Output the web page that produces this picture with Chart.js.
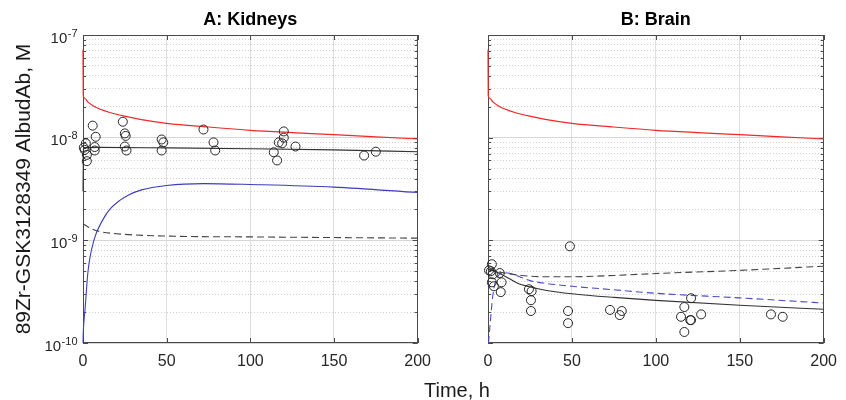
<!DOCTYPE html>
<html><head><meta charset="utf-8">
<script src="https://cdn.jsdelivr.net/npm/chart.js@4/dist/chart.umd.min.js"></script>
<style>
html,body{margin:0;padding:0;background:#fff;}
#wrap{position:relative;width:846px;height:400px;overflow:hidden;background:#fff;}
#cA{position:absolute;left:0;top:0;}
#cB{position:absolute;left:440px;top:0;}
#xt{position:absolute;left:0;top:378px;width:914px;text-align:center;font-family:"Liberation Sans",Arial,sans-serif;font-size:20px;line-height:24px;color:#1a1a1a;}
</style></head><body>
<div id="wrap">
<canvas id="cA" width="440" height="400"></canvas>
<canvas id="cB" width="406" height="400"></canvas>
<div id="xt">Time, h</div>
</div>
<script>
// ---------- data ----------
const panelTitles = ['A: Kidneys', 'B: Brain'];
const yAxisTitle = '89Zr-GSK3128349 AlbudAb, M';
const xTicks = [0, 50, 100, 150, 200];
const yDecades = [1e-10, 1e-9, 1e-8, 1e-7];
const yTickBase = '10';
const yTickExp = ['-10', '-9', '-8', '-7'];

// observed kidney
const kidneyObsTime = [0.5, 1.7, 2.3, 2.3, 1.0, 5.8, 7.6, 7.0, 7.0, 23.8, 25.0, 25.5, 25.0, 26.0, 47.0, 48.0, 47.0, 72.0, 78.0, 79.0, 114.0, 116.0, 117.0, 120.0, 120.0, 119.0, 127.0, 168.0, 175.0];
const kidneyObsConc = [8.0e-9, 8.8e-9, 6.8e-9, 5.9e-9, 7.6e-9, 1.31e-8, 1.02e-8, 8.1e-9, 7.5e-9, 1.43e-8, 1.1e-8, 1.04e-8, 8.2e-9, 7.5e-9, 9.6e-9, 9.0e-9, 7.5e-9, 1.2e-8, 9.0e-9, 7.5e-9, 7.2e-9, 6.0e-9, 9.0e-9, 1.15e-8, 1.0e-8, 8.8e-9, 8.2e-9, 6.7e-9, 7.3e-9];

// observed brain
const brainObsTime = [0.6, 2.3, 1.7, 2.9, 2.3, 3.5, 7.0, 8.1, 7.6, 24.4, 26.0, 25.6, 25.6, 48.8, 47.7, 47.7, 72.7, 78.5, 79.7, 115.0, 117.0, 121.0, 121.0, 120.5, 117.0, 127.0, 168.6, 175.6];
const brainObsConc = [5.1e-10, 5.85e-10, 5.0e-10, 4.67e-10, 3.9e-10, 3.57e-10, 4.8e-10, 3.9e-10, 3.13e-10, 3.34e-10, 3.2e-10, 2.61e-10, 2.05e-10, 8.75e-10, 2.05e-10, 1.56e-10, 2.1e-10, 1.87e-10, 2.05e-10, 1.8e-10, 2.24e-10, 2.73e-10, 1.67e-10, 1.67e-10, 1.28e-10, 1.9e-10, 1.9e-10, 1.8e-10];

// plasma (red) - shown in both panels
const plasmaTime = [0, 0.15, 1, 3, 6, 10, 16, 25, 35, 50, 75, 100, 125, 150, 175, 200];
const plasmaConc = [7.2e-8, 2.55e-8, 2.42e-8, 2.22e-8, 2.05e-8, 1.9e-8, 1.76e-8, 1.62e-8, 1.5e-8, 1.38e-8, 1.27e-8, 1.18e-8, 1.12e-8, 1.07e-8, 1.02e-8, 9.7e-9];

// kidney model curves
const kidneyTotalTime = [0, 0.3, 1, 10, 50, 100, 150, 200];
const kidneyTotalConc = [3.0e-9, 7.6e-9, 8.0e-9, 8.05e-9, 7.95e-9, 7.8e-9, 7.6e-9, 7.3e-9];
const kidneyBlueTime = [0, 0.2, 1.2, 3, 6.5, 12, 16, 22, 27, 35, 50, 72, 100, 150, 200];
const kidneyBlueConc = [1e-10, 1.3e-10, 2.1e-10, 5e-10, 1e-9, 1.6e-9, 2.0e-9, 2.45e-9, 2.75e-9, 3.1e-9, 3.42e-9, 3.57e-9, 3.5e-9, 3.3e-9, 2.92e-9];
const kidneyDashTime = [0, 5, 10, 20, 50, 100, 200];
const kidneyDashConc = [1.45e-9, 1.3e-9, 1.22e-9, 1.16e-9, 1.1e-9, 1.08e-9, 1.05e-9];

// brain model curves
const brainTotalTime = [0, 0.5, 3, 7, 12, 18, 24, 35, 50, 75, 100, 150, 200];
const brainTotalConc = [5.1e-10, 5.2e-10, 5.1e-10, 4.75e-10, 4.3e-10, 3.8e-10, 3.55e-10, 3.25e-10, 3.02e-10, 2.78e-10, 2.6e-10, 2.33e-10, 2.13e-10];
const brainDashTime = [0, 7, 20, 35, 50, 75, 100, 150, 200];
const brainDashConc = [5.2e-10, 4.9e-10, 4.55e-10, 4.42e-10, 4.42e-10, 4.55e-10, 4.75e-10, 5.1e-10, 5.6e-10];
const brainBlueTime = [0.3, 1, 2, 3, 4, 6, 9, 12, 16, 25, 35, 50, 75, 100, 150, 200];
const brainBlueConc = [1e-10, 1.35e-10, 2.1e-10, 3.0e-10, 3.7e-10, 4.5e-10, 4.85e-10, 4.8e-10, 4.6e-10, 4.05e-10, 3.8e-10, 3.57e-10, 3.3e-10, 3.05e-10, 2.75e-10, 2.45e-10];

// ---------- helpers ----------
const FONT = '"Liberation Sans", Arial, Helvetica, sans-serif';
const zip = (t, v) => t.map((x, i) => ({x: x, y: v[i]}));
const isDecade = v => { const l = Math.log10(v); return Math.abs(l - Math.round(l)) < 1e-6; };
const yTickValues = [];
yDecades.forEach((d, i) => {
  yTickValues.push(d);
  if (i < yDecades.length - 1) for (let k = 2; k <= 9; k++) yTickValues.push(k * d);
});

// box + inward tick marks, drawn under the data
const framePlugin = {
  id: 'frame',
  beforeDatasetsDraw(chart) {
    const {ctx, chartArea: a, scales} = chart;
    ctx.save();
    ctx.strokeStyle = '#4a4a4a';
    ctx.lineWidth = 1;
    ctx.beginPath();
    scales.y.ticks.forEach(t => {
      const p = Math.round(scales.y.getPixelForValue(t.value)) + 0.5;
      const L = isDecade(t.value) ? 5 : 3;
      ctx.moveTo(a.left, p); ctx.lineTo(a.left + L, p);
      ctx.moveTo(a.right, p); ctx.lineTo(a.right - L, p);
    });
    scales.x.ticks.forEach(t => {
      const p = Math.round(scales.x.getPixelForValue(t.value)) + 0.5;
      ctx.moveTo(p, a.bottom); ctx.lineTo(p, a.bottom - 5);
      ctx.moveTo(p, a.top); ctx.lineTo(p, a.top + 5);
    });
    ctx.stroke();
    ctx.strokeRect(Math.round(a.left) + 0.5, Math.round(a.top) + 0.5, Math.round(a.width) - 1, Math.round(a.height) - 1);
    ctx.restore();
  }
};

// y tick labels "10" with superscript exponent
const powerLabelPlugin = {
  id: 'powerLabels',
  afterDraw(chart) {
    if (!chart.options.plugins.powerLabels || !chart.options.plugins.powerLabels.show) return;
    const {ctx, chartArea: a, scales} = chart;
    ctx.save();
    ctx.fillStyle = '#262626';
    ctx.textBaseline = 'alphabetic';
    ctx.textAlign = 'left';
    yDecades.forEach((d, i) => {
      const p = scales.y.getPixelForValue(d);
      ctx.font = '11px ' + FONT;
      const ew = ctx.measureText(yTickExp[i]).width;
      ctx.font = '15px ' + FONT;
      const bw = ctx.measureText(yTickBase).width;
      const right = a.left - 6;
      const x0 = right - ew - bw;
      ctx.fillText(yTickBase, x0, p + 7.5);
      ctx.font = '11px ' + FONT;
      ctx.fillText(yTickExp[i], x0 + bw + 0.5, p + 1.5);
    });
    ctx.restore();
  }
};

function lineDs(t, v, color, dash, width) {
  return {type: 'line', data: zip(t, v), borderColor: color, borderWidth: width || 1.1,
    borderDash: dash || [], pointRadius: 0, fill: false, cubicInterpolationMode: 'monotone',
    clip: {left: 2, top: 1, right: 1, bottom: 1}};
}
function obsDs(t, v) {
  return {type: 'scatter', data: zip(t, v), showLine: false, pointStyle: 'circle', pointRadius: 4.5,
    borderColor: '#262626', backgroundColor: 'rgba(0,0,0,0)', borderWidth: 1, clip: false};
}

function makeChart(id, title, datasets, yWidth, padRight, showY) {
  return new Chart(document.getElementById(id), {
    type: 'scatter',
    data: {datasets: datasets},
    plugins: [framePlugin, powerLabelPlugin],
    options: {
      responsive: false, animation: false, devicePixelRatio: 1,
      layout: {padding: {left: 0, right: padRight, top: 0, bottom: 0}},
      plugins: {
        legend: {display: false}, tooltip: {enabled: false},
        powerLabels: {show: showY},
        title: {display: true, text: title, fullSize: false, color: '#000',
          font: {family: FONT, size: 18, weight: 'bold'}, padding: {top: 9.5, bottom: 3.9}}
      },
      scales: {
        x: {
          type: 'linear', min: 0, max: 200,
          afterBuildTicks: s => { s.ticks = xTicks.map(v => ({value: v})); },
          afterFit: s => { s.height = 57; },
          ticks: {color: '#262626', font: {family: FONT, size: 16}, padding: 9, maxRotation: 0, autoSkip: false},
          grid: {color: c => (c.tick && (c.tick.value === 0 || c.tick.value === 200)) ? 'rgba(0,0,0,0)' : '#dedede', drawTicks: false, lineWidth: 1},
          border: {display: false}
        },
        y: {
          type: 'logarithmic', min: 1e-10, max: 1e-7,
          afterBuildTicks: s => { s.ticks = yTickValues.map(v => ({value: v})); },
          afterFit: s => { s.width = yWidth; },
          ticks: {display: false},
          grid: {color: c => (c.tick && isDecade(c.tick.value)) ? '#d6d6d6' : '#cfcfcf', drawTicks: false, lineWidth: 1},
          border: {display: false, dash: c => (c.tick && !isDecade(c.tick.value)) ? [1, 2] : []},
          title: {display: showY, text: yAxisTitle, color: '#1a1a1a', font: {family: FONT, size: 21}, padding: {top: 12, bottom: 0}}
        }
      }
    }
  });
}

makeChart('cA', panelTitles[0], [
  obsDs(kidneyObsTime, kidneyObsConc),
  lineDs(plasmaTime, plasmaConc, '#f02828', [], 1.2),
  lineDs(kidneyTotalTime, kidneyTotalConc, '#333333', [], 1.1),
  lineDs(kidneyBlueTime, kidneyBlueConc, '#3c3cbe', [], 1.1),
  lineDs(kidneyDashTime, kidneyDashConc, '#444444', [7, 4], 1.1)
], 83, 13, true);

makeChart('cB', panelTitles[1], [
  obsDs(brainObsTime, brainObsConc),
  lineDs(plasmaTime, plasmaConc, '#f02828', [], 1.2),
  lineDs(brainTotalTime, brainTotalConc, '#333333', [], 1.1),
  lineDs(brainDashTime, brainDashConc, '#444444', [7, 4], 1.1),
  lineDs(brainBlueTime, brainBlueConc, '#4a4ac8', [7, 4], 1.1)
], 48, 14, false);
</script>
</body></html>
